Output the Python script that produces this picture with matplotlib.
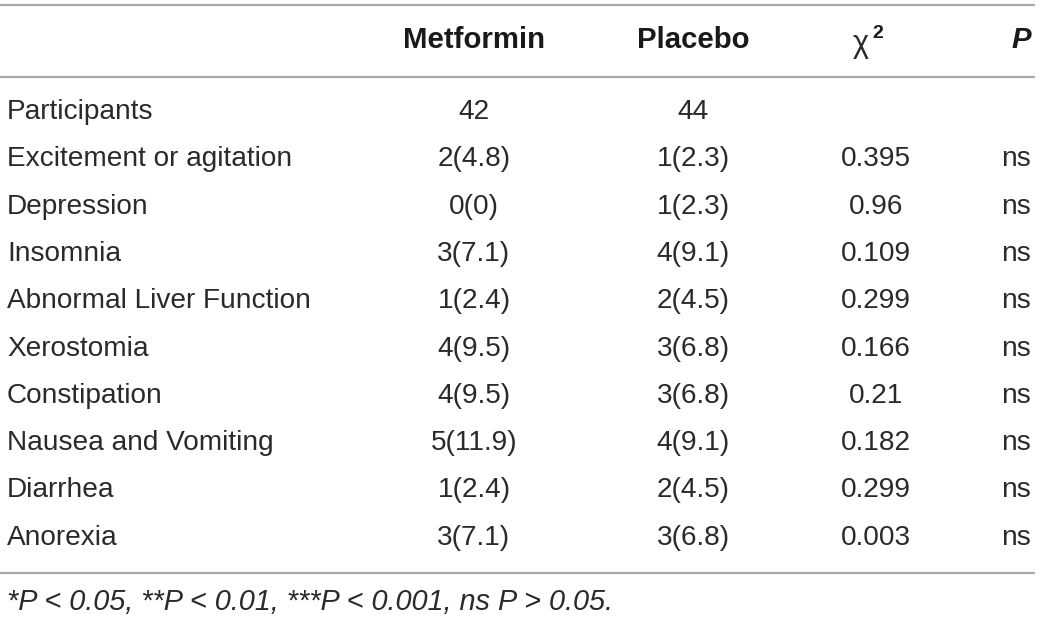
import matplotlib

matplotlib.use("Agg")

import matplotlib.pyplot as plt

rows = [
    "Participants",
    "Excitement or agitation",
    "Depression",
    "Insomnia",
    "Abnormal Liver Function",
    "Xerostomia",
    "Constipation",
    "Nausea and Vomiting",
    "Diarrhea",
    "Anorexia",
]
metformin = ["42", "2(4.8)", "0(0)", "3(7.1)", "1(2.4)", "4(9.5)", "4(9.5)", "5(11.9)", "1(2.4)", "3(7.1)"]
placebo = ["44", "1(2.3)", "1(2.3)", "4(9.1)", "2(4.5)", "3(6.8)", "3(6.8)", "4(9.1)", "2(4.5)", "3(6.8)"]
chi2 = ["", "0.395", "0.96", "0.109", "0.299", "0.166", "0.21", "0.182", "0.299", "0.003"]
pvals = ["", "ns", "ns", "ns", "ns", "ns", "ns", "ns", "ns", "ns"]
footnote = "*P < 0.05, **P < 0.01, ***P < 0.001, ns P > 0.05."

FONT = "Liberation Sans"
TXT = "#2a2a2a"
LINE = "#a7a9ac"
SIZE = 20.2
HEAD = 21.2

fig = plt.figure(figsize=(10.4, 6.2), dpi=100)
ax = fig.add_axes([0, 0, 1, 1])
ax.set_xlim(0, 1040)
ax.set_ylim(620, 0)
ax.axis("off")

x_name, x_met, x_pla, x_chi, x_p = 7, 474, 693, 876, 1031

# rules
for y in (5, 77, 573):
    ax.plot([0, 1035], [y, y], color=LINE, lw=1.6, solid_capstyle="butt")

# header
hy = 40
kw = dict(fontfamily=FONT, fontsize=SIZE, color=TXT, va="center")
hkw = dict(fontfamily=FONT, fontsize=HEAD, color="#1a1a1a", va="center", fontweight="bold")
ax.text(x_met, hy, "Metformin", ha="center", **hkw)
ax.text(x_pla, hy, "Placebo", ha="center", **hkw)
ax.text(861, hy + 4, "χ", ha="center", fontfamily=FONT, fontsize=22, color=TXT, va="center")
ax.text(872, hy - 7, "2", ha="left", fontfamily=FONT, fontsize=14,
        fontweight="bold", color="#1a1a1a", va="center")
ax.text(x_p, hy, "P", ha="right", fontstyle="italic", **hkw)

# body
y0, dy = 112, 47.3
for i, name in enumerate(rows):
    y = y0 + i * dy
    ax.text(x_name, y, name, ha="left", **kw)
    ax.text(x_met, y, metformin[i], ha="center", **kw)
    ax.text(x_pla, y, placebo[i], ha="center", **kw)
    ax.text(x_chi, y, chi2[i], ha="center", **kw)
    ax.text(x_p, y, pvals[i], ha="right", **kw)

ax.text(x_name, 602, footnote, ha="left", fontstyle="italic",
        fontfamily=FONT, fontsize=20.8, color=TXT, va="center")

fig.savefig("out.png", dpi=100)
